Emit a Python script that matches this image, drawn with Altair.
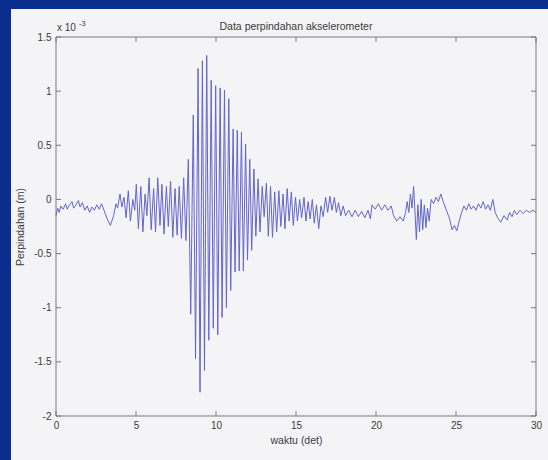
import altair as alt
import pandas as pd

# ---- data (values in units of 1e-3 m) ----
waktu_a = [0.0, 0.1, 0.2, 0.3, 0.45, 0.6, 0.7, 0.85, 1.0, 1.1, 1.25, 1.4, 1.5, 1.65,
           1.8, 1.95, 2.1, 2.25, 2.4, 2.55, 2.7, 2.85, 3.0, 3.2, 3.4, 3.6, 3.75, 3.85]
perpindahan_a = [-0.15, -0.08, -0.12, -0.06, -0.09, -0.04, -0.09, -0.05, -0.02, -0.08, -0.05, -0.01, -0.07, -0.03,
                 -0.1, -0.06, -0.12, -0.07, -0.1, -0.05, -0.09, -0.04, -0.1, -0.18, -0.24, -0.15, -0.04, -0.08]

waktu_b = [4.0, 4.12, 4.25, 4.38, 4.52, 4.65, 4.8, 4.92, 5.02, 5.15, 5.3, 5.43, 5.57, 5.68, 5.82, 5.95,
           6.1, 6.22, 6.36, 6.5, 6.62, 6.75, 6.9, 7.02, 7.16, 7.3, 7.44, 7.57, 7.7, 7.84, 7.98, 8.12]
perpindahan_b = [0.05, -0.07, 0.02, -0.17, 0.08, -0.2, 0.0, -0.1, 0.14, -0.27, 0.12, -0.3, 0.05, -0.15, 0.2, -0.28,
                 0.1, -0.3, 0.2, -0.24, 0.14, -0.32, 0.12, -0.25, 0.17, -0.35, 0.1, -0.33, 0.12, -0.36, 0.2, -0.38]

waktu_c = [8.27, 8.42, 8.58, 8.72, 8.88, 9.0, 9.15, 9.28, 9.42, 9.55,
           9.7, 9.83, 9.98, 10.11, 10.26, 10.38, 10.53, 10.65, 10.8, 10.92,
           11.07, 11.19, 11.33, 11.45, 11.59, 11.71, 11.85, 11.97, 12.11, 12.23,
           12.37, 12.49, 12.63, 12.75, 12.89, 13.01, 13.15, 13.27, 13.41, 13.53,
           13.67, 13.79, 13.93, 14.05, 14.19, 14.31, 14.45, 14.57, 14.71, 14.83,
           14.97, 15.09]
perpindahan_c = [0.37, -1.06, 0.78, -1.47, 1.21, -1.78, 1.28, -1.58, 1.33, -1.3,
                 1.1, -1.19, 1.05, -1.25, 1.03, -1.09, 1.01, -1.0, 0.93, -0.84,
                 0.65, -0.67, 0.64, -0.66, 0.62, -0.66, 0.51, -0.56, 0.37, -0.47,
                 0.28, -0.34, 0.19, -0.3, 0.12, -0.16, 0.15, -0.34, 0.12, -0.35,
                 0.07, -0.3, 0.08, -0.25, 0.05, -0.27, 0.1, -0.2, 0.07, -0.24,
                 0.02, -0.2]

waktu_d = [15.23, 15.35, 15.5, 15.62, 15.76, 15.88, 16.02, 16.14, 16.28, 16.42,
           16.56, 16.7, 16.85, 16.98, 17.12, 17.25, 17.4, 17.52, 17.66, 17.8,
           17.95, 18.1, 18.3, 18.5, 18.7, 18.9, 19.1, 19.3, 19.5, 19.65]
perpindahan_d = [0.0, -0.17, 0.02, -0.2, -0.02, -0.18, 0.0, -0.22, -0.05, -0.27,
                 -0.06, -0.16, 0.02, -0.12, 0.03, -0.1, 0.02, -0.12, -0.03, -0.15,
                 -0.06, -0.15, -0.1, -0.16, -0.1, -0.16, -0.11, -0.17, -0.1, -0.18]

waktu_e = [19.75, 19.95, 20.15, 20.35, 20.55, 20.75, 20.95, 21.1, 21.3, 21.5,
           21.7, 21.85, 21.95, 22.05, 22.15, 22.25, 22.35, 22.45, 22.52, 22.62,
           22.72, 22.82, 22.92, 23.02, 23.12, 23.22, 23.32, 23.45, 23.6, 23.75,
           23.9, 24.05, 24.2, 24.4, 24.6, 24.75, 24.9, 25.05, 25.2, 25.35,
           25.5, 25.65, 25.8, 25.95, 26.1, 26.25, 26.4, 26.55, 26.7, 26.85,
           27.0, 27.15, 27.3, 27.45, 27.6, 27.8, 28.0, 28.2, 28.35, 28.5,
           28.65, 28.8, 29.0, 29.2, 29.4, 29.6, 29.8, 30.0]
perpindahan_e = [-0.05, -0.09, -0.04, -0.1, -0.05, -0.1, -0.06, -0.15, -0.2, -0.16,
                 -0.2, -0.12, -0.02, -0.12, 0.05, -0.08, 0.12, -0.15, -0.37, -0.05,
                 -0.3, 0.0, -0.28, -0.05, -0.26, -0.08, -0.2, 0.0, -0.04, 0.02,
                 -0.02, 0.05, -0.02, -0.1, -0.18, -0.28, -0.24, -0.29, -0.2, -0.12,
                 -0.06, -0.1, -0.04, -0.09, -0.06, -0.1, -0.04, -0.08, -0.02, -0.09,
                 -0.05, -0.1, 0.0, -0.12, -0.17, -0.21, -0.15, -0.19, -0.12, -0.16,
                 -0.1, -0.14, -0.1, -0.13, -0.1, -0.12, -0.1, -0.12]

x_ticks = [0, 5, 10, 15, 20, 25, 30]
y_ticks = [-2, -1.5, -1, -0.5, 0, 0.5, 1, 1.5]

judul = "Data perpindahan akselerometer"
label_x = "waktu (det)"
label_y = "Perpindahan (m)"

# ---- build ----
waktu = waktu_a + waktu_b + waktu_c + waktu_d + waktu_e
perpindahan = perpindahan_a + perpindahan_b + perpindahan_c + perpindahan_d + perpindahan_e
df = pd.DataFrame({"t": waktu, "v": perpindahan})

W, H = 480, 379
LEFT, TOP = 56, 37
PAPER = "#f4f4f6"
BLUE = "#0b2d8e"
FRAME = "#7a7a7a"
TXT = "#3a3a3a"
FONT = "Liberation Sans"

xs = alt.Scale(domain=[0, 30], nice=False, zero=False)
ys = alt.Scale(domain=[-2, 1.5], nice=False, zero=False)
one = pd.DataFrame({"a": [0]})

blue_left = alt.Chart(one).mark_rect(color=BLUE).encode(
    x=alt.value(-LEFT), x2=alt.value(-45), y=alt.value(-TOP), y2=alt.value(H + 60))
blue_top = alt.Chart(one).mark_rect(color=BLUE).encode(
    x=alt.value(-LEFT), x2=alt.value(W + 20), y=alt.value(-TOP), y2=alt.value(-28))

line = alt.Chart(df).mark_line(color="#6464cc", strokeWidth=1).encode(
    x=alt.X("t:Q", scale=xs,
            axis=alt.Axis(values=x_ticks, title=label_x, labelFlush=False, zindex=1,
                          labelPadding=4, titlePadding=5)),
    y=alt.Y("v:Q", scale=ys,
            axis=alt.Axis(values=y_ticks, title=label_y, labelExpr="toString(datum.value)",
                          zindex=1, labelPadding=5, titlePadding=8)),
)

xt = pd.DataFrame({"t": x_ticks})
yt = pd.DataFrame({"v": y_ticks})
tick_bottom = alt.Chart(xt).mark_rule(color=FRAME, strokeWidth=1).encode(
    x=alt.X("t:Q", scale=xs), y=alt.value(H), y2=alt.value(H - 5))
tick_top = alt.Chart(xt).mark_rule(color=FRAME, strokeWidth=1).encode(
    x=alt.X("t:Q", scale=xs), y=alt.value(0), y2=alt.value(5))
tick_left = alt.Chart(yt).mark_rule(color=FRAME, strokeWidth=1).encode(
    y=alt.Y("v:Q", scale=ys), x=alt.value(0), x2=alt.value(5))
tick_right = alt.Chart(yt).mark_rule(color=FRAME, strokeWidth=1).encode(
    y=alt.Y("v:Q", scale=ys), x=alt.value(W), x2=alt.value(W - 5))

frame = alt.Chart(one).mark_rect(fillOpacity=0, stroke=FRAME, strokeWidth=1).encode(
    x=alt.value(0), x2=alt.value(W), y=alt.value(0), y2=alt.value(H))

title_txt = alt.Chart(one).mark_text(font=FONT, fontSize=10.5, color=TXT, align="center",
                                     baseline="middle").encode(
    x=alt.value(W / 2), y=alt.value(-10), text=alt.value(judul))
exp_base = alt.Chart(one).mark_text(font=FONT, fontSize=10, color=TXT, align="left",
                                    baseline="alphabetic").encode(
    x=alt.value(1), y=alt.value(-6), text=alt.value("x 10"))
exp_sup = alt.Chart(one).mark_text(font=FONT, fontSize=7.5, color=TXT, align="left",
                                   baseline="alphabetic").encode(
    x=alt.value(23), y=alt.value(-11), text=alt.value("-3"))

chart = alt.layer(
    blue_left, blue_top, frame, line, tick_bottom, tick_top, tick_left, tick_right,
    title_txt, exp_base, exp_sup
).properties(
    width=W, height=H,
    autosize=alt.AutoSizeParams(type="none"),
    padding={"left": LEFT, "top": TOP, "right": 548 - LEFT - W, "bottom": 460 - TOP - H},
    background=PAPER,
).configure_view(
    stroke=None
).configure_axis(
    domain=False, ticks=False, grid=False,
    labelFont=FONT, labelFontSize=10, labelColor=TXT,
    titleFont=FONT, titleFontSize=10.5, titleColor=TXT, titleFontWeight="normal",
)

chart.save("out.html", embed_options={"renderer": "svg", "actions": False})
